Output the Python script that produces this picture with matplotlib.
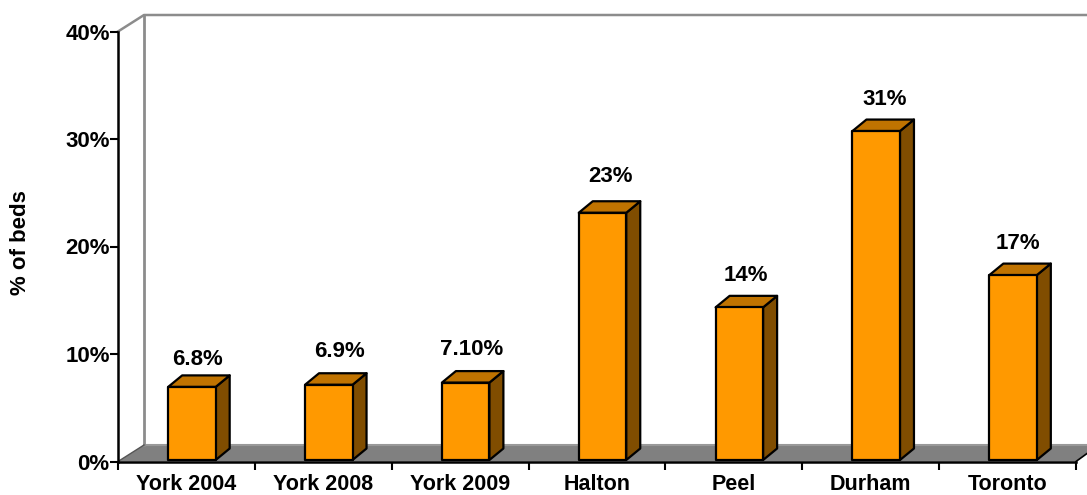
import matplotlib
matplotlib.use("Agg")
import matplotlib.pyplot as plt
from matplotlib.patches import Polygon

plt.rcParams['font.family'] = ['Liberation Sans', 'DejaVu Sans']
plt.rcParams['font.weight'] = 'bold'

categorias = ["York 2004", "York 2008", "York 2009", "Halton", "Peel", "Durham", "Toronto"]
alturas = [6.8, 7.0, 7.2, 23.0, 14.2, 30.6, 17.2]
etiquetas = ["6.8%", "6.9%", "7.10%", "23%", "14%", "31%", "17%"]
yticks = [0, 10, 20, 30, 40]

W, H = 1087, 495
x0, x1 = 118, 1076    # eje x en pixeles
y0, y1 = 461.5, 31.5  # eje y en pixeles

fig = plt.figure(figsize=(W/100, H/100), dpi=100)
ax = fig.add_axes([x0/W, 1-y0/H, (x1-x0)/W, (y0-y1)/H])
ax.set_xlim(0, 7)
ax.set_ylim(0, 40)

# conversion de pixeles a unidades de datos
ux = 7/(x1-x0)
uy = 40/(y0-y1)

# paredes y piso en perspectiva
wx, wy = 26*ux, 16.5*uy
xmax = (W-x0)*ux
gris = '#8c8c8c'
piso = Polygon([(0, 0), (wx, wy), (xmax, wy), (xmax, 8*uy), (7, 0)], closed=True,
               facecolor='#808080', edgecolor='none', clip_on=False, zorder=1)
ax.add_patch(piso)
ax.plot([wx, xmax], [wy, wy], color='#999999', lw=1.5, clip_on=False, zorder=1.5)
ax.plot([wx, wx], [wy, 40+wy], color=gris, lw=2, clip_on=False, zorder=1.5)
ax.plot([0, wx, xmax], [40, 40+wy, 40+wy], color=gris, lw=1.8, clip_on=False, zorder=1.5)
ax.plot([7, xmax], [0, 8*uy], color='black', lw=1.2, clip_on=False, zorder=1.5)
ax.plot([0, wx], [0, wy], color='#555555', lw=1.0, clip_on=False, zorder=1.5)

# barras 3D
ancho = 47.5*ux
dx, dy = 14*ux, 11.5*uy
corr = 5.5*ux    # las barras estan corridas respecto al centro de la categoria
base = 1.5*uy
# ajuste a mano de cada etiqueta, en pixeles
ajuste_x = [11.5, 16.5, 11.5, 13.5, 12.5, 13.5, 10.5]
ajuste_y = [-6, 0, 0, 3, -2, -2, -2]
for i in range(len(alturas)):
    izq = i+0.5+corr-ancho/2
    der = izq+ancho
    top = base+alturas[i]
    lado = Polygon([(der, base), (der+dx, base+dy), (der+dx, top+dy), (der, top)],
                   facecolor='#804D00', edgecolor='black', lw=1.6, joinstyle='round', zorder=3)
    tapa = Polygon([(izq, top), (izq+dx, top+dy), (der+dx, top+dy), (der, top)],
                   facecolor='#C07300', edgecolor='black', lw=1.6, joinstyle='round', zorder=3)
    frente = Polygon([(izq, base), (izq, top), (der, top), (der, base)],
                     facecolor='#FF9900', edgecolor='black', lw=1.6, joinstyle='round', zorder=4)
    ax.add_patch(lado)
    ax.add_patch(tapa)
    ax.add_patch(frente)
    ax.text(i+0.5+ajuste_x[i]*ux, top+dy+(11.5+ajuste_y[i])*uy, etiquetas[i], ha='center', va='bottom',
            fontsize=16, fontweight='bold', color='black', zorder=5)

# ejes
for s in ['top', 'right']:
    ax.spines[s].set_visible(False)
ax.spines['left'].set_linewidth(1.8)
ax.spines['bottom'].set_linewidth(1.8)
ax.spines['left'].set_zorder(6)
ax.spines['bottom'].set_zorder(6)
ax.patch.set_alpha(0)

ax.set_yticks(yticks)
ax.set_yticklabels([f"{v}%" for v in yticks], fontsize=16, fontweight='bold', color='black')
ax.set_xticks(range(8))
ax.set_xticklabels([])
ax.set_xticks([i+0.5 for i in range(7)], minor=True)
ax.set_xticklabels(categorias, minor=True, fontsize=15.5, fontweight='bold', color='black')
ax.tick_params(axis='y', length=6, width=1.5, pad=0)
ax.tick_params(axis='x', which='major', length=6, width=1.5)
ax.tick_params(axis='x', which='minor', length=0, pad=9)

fig.text(21/W, 1-243/H, "% of beds", rotation=90, ha='center', va='center',
         fontsize=16, fontweight='bold', color='black')

fig.savefig("out.png", dpi=100)
